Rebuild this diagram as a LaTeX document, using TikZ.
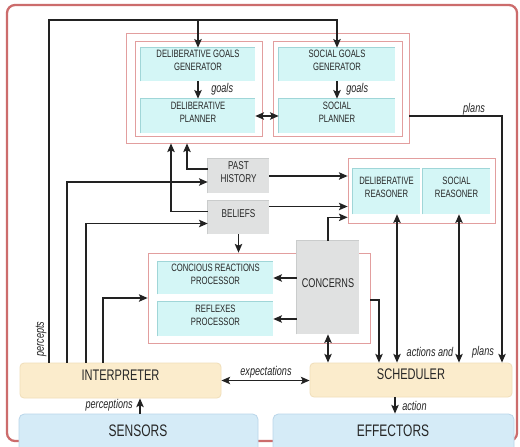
\documentclass[tikz,border=0pt]{standalone}
\usepackage{fontspec}
\setmainfont{Liberation Sans}[FakeStretch=0.72]
\usetikzlibrary{arrows.meta,fit,calc}

\definecolor{framered}{RGB}{204,108,108}
\definecolor{pinkline}{RGB}{226,158,158}
\definecolor{cyanfill}{RGB}{212,246,246}
\definecolor{cyanedge}{RGB}{160,214,216}
\definecolor{grayfill}{RGB}{224,225,225}
\definecolor{grayedge}{RGB}{202,204,204}
\definecolor{peachfill}{RGB}{251,236,204}
\definecolor{peachedge}{RGB}{240,222,186}
\definecolor{bluefill}{RGB}{213,235,247}
\definecolor{blueedge}{RGB}{186,214,234}
\definecolor{ink}{RGB}{34,34,34}
\definecolor{txt}{RGB}{38,38,38}

\tikzset{
  module/.style={draw=pinkline, line width=0.5pt},
  cbox/.style={fill=cyanfill, inner sep=0pt, align=center, text=txt,
    font=\fontsize{8}{9.8}\selectfont},
  gbox/.style={fill=grayfill, inner sep=0pt, align=center, text=txt,
    font=\fontsize{8.5}{9.8}\selectfont},
  pbox/.style={fill=peachfill, draw=peachedge, line width=0.6pt, rounded corners=3pt,
    inner sep=0pt, text=txt, font=\fontsize{11.5}{13}\selectfont},
  bbox/.style={fill=bluefill, draw=blueedge, line width=0.6pt, rounded corners=4pt,
    inner sep=0pt, text=txt, font=\fontsize{12.5}{14}\selectfont},
  cbevel/.style={draw=cyanedge, line width=1pt},
  gbevel/.style={draw=grayedge, line width=1pt},
  conn/.style={draw=ink, line width=1.25pt},
  arr/.style={conn, -{Stealth[length=6.5pt,width=5.5pt,inset=1.3pt]}},
  darr/.style={conn, {Stealth[length=6.5pt,width=5.5pt,inset=1.3pt]}-{Stealth[length=6.5pt,width=5.5pt,inset=1.3pt]}},
  lbl/.style={text=txt, inner sep=0pt, font=\fontsize{9.5}{11}\selectfont\itshape},
}

\begin{document}
\begin{tikzpicture}[x=0.75pt, y=-0.75pt]
\useasboundingbox (0,0) rectangle (520,446);
\fill[white] (0,0) rectangle (520,446);
\begin{scope}
\clip (0,0) rectangle (520,446);

% outer frame
\draw[framered, line width=1.7pt, rounded corners=6pt] (7,5) rectangle (517,441);

% deliberative layer
\node[module, fit={(126,33)(409,143)}, inner sep=0pt] (delout) {};
\node[module, fit={(135,41)(262,136)}, inner sep=0pt] (delin) {};
\node[module, fit={(273,41)(402,136)}, inner sep=0pt] (socin) {};
\node[cbox, fit={(141,48)(255,81)}] (dgg) {DELIBERATIVE GOALS\\GENERATOR};
\node[cbox, fit={(141,99)(255,133)}] (dp) {DELIBERATIVE\\PLANNER};
\node[cbox, fit={(279,48)(395,81)}] (sgg) {SOCIAL GOALS\\GENERATOR};
\node[cbox, fit={(279,99)(395,133)}] (sp) {SOCIAL\\PLANNER};

% memory
\node[gbox, fit={(208,159)(269,193)}] (ph) {PAST\\HISTORY};
\node[gbox, fit={(208,201)(269,234)}] (bel) {BELIEFS};

% reasoners
\node[module, fit={(348,158)(495,223)}, inner sep=0pt] (reason) {};
\node[cbox, fit={(353,169)(420,214)}] (dr) {DELIBERATIVE\\REASONER};
\node[cbox, fit={(423,169)(490,214)}] (sr) {SOCIAL\\REASONER};

% reactive layer
\node[module, fit={(148,253)(370,343)}, inner sep=0pt] (react) {};
\node[cbox, fit={(158,262)(273,294)}] (crp) {CONCIOUS REACTIONS\\PROCESSOR};
\node[cbox, fit={(158,302)(273,336)}] (rp) {REFLEXES\\PROCESSOR};
\node[gbox, fit={(297,241)(359,334)}, font=\fontsize{9.5}{11}\selectfont] (conc) {CONCERNS};

% bevelled top and left edges
\foreach \n in {dgg,dp,sgg,sp,dr,sr,crp,rp}
  \draw[cbevel] (\n.south west) -- (\n.north west) -- (\n.north east);
\foreach \n in {ph,bel,conc}
  \draw[gbevel] (\n.south west) -- (\n.north west) -- (\n.north east);

% interface
\node[pbox, fit={(20,363)(221,398)}] (interp) {INTERPRETER};
\node[pbox, fit={(310,363)(512,397)}] (sched) {SCHEDULER};
\node[bbox, fit={(19,414)(258,470)}] (sens) {};
\node[bbox, fit={(273,414)(514,470)}] (eff) {};
\node[text=txt, font=\fontsize{12.5}{14}\selectfont] at (138,431) (senslbl) {SENSORS};
\node[text=txt, font=\fontsize{12.5}{14}\selectfont] at (393,431) (efflbl) {EFFECTORS};
\end{scope}

% lanes
\coordinate (top) at (0,20);
\coordinate (l1) at (49,0);
\coordinate (l2) at (67,0);
\coordinate (l3) at (86,0);
\coordinate (l4) at (103,0);
\coordinate (u1) at (171,0);
\coordinate (u2) at (187,0);
\coordinate (lp) at (502,0);
\coordinate (lr) at (379,0);
\coordinate (la) at (397,0);
\coordinate (lb) at (459,0);
\coordinate (lsens) at (140,0);
\coordinate (lact) at (395,0);

% percepts to the goal generators
\draw[arr] (interp.north -| l1) -- (l1 |- top) -- (top -| sgg.north) -- (sgg.north);
\draw[arr] (top -| dgg.north) -- (dgg.north);
\node[lbl, rotate=90] at (41,339) (perceptslbl) {percepts};

% goals and plans
\draw[arr] (dgg.south) -- (dp.north);
\node[lbl, anchor=west] at (211,89) (g1) {goals};
\draw[arr] (sgg.south) -- (sp.north);
\node[lbl, anchor=west] at (346,89) (g2) {goals};
\draw[darr] (dp.east) -- (sp.west);
\draw[arr] (sp.east -| delout.east) -| (lp |- sched.north);
\node[lbl] at (474,109) (plansl1) {plans};

% memory to deliberative layer
\draw[arr] ($(ph.west)+(0,-7)$) -| (u2 |- delout.south);
\draw[arr] ($(bel.west)+(0,-6)$) -| (u1 |- delout.south);

% interpreter outputs
\draw[arr] (interp.north -| l2) |- ($(ph.west)+(0,6)$);
\draw[arr] (interp.north -| l3) |- ($(bel.west)+(0,6)$);
\draw[arr] (interp.north -| l4) |- (react.west);

% memory to reasoners
\draw[arr] (ph.east) -- (ph.east -| reason.west);
\coordinate (b1) at ($(bel.east)+(0,-11)$);
\draw[arr] (b1) -- (b1 -| reason.west);
\draw[arr] (conc.north) |- ($(reason.south west)+(0,-6)$);

% reactive layer
\draw[arr] (bel.south) -- (bel.south |- react.north);
\draw[arr] (conc.west |- crp.east) -- (crp.east);
\draw[arr] (conc.west |- rp.east) -- (rp.east);
\draw[arr] ($(react.east)+(0,2)$) -| (lr |- sched.north);
\draw[darr] (conc.south) -- (conc.south |- sched.north);

% reasoners and scheduler
\draw[darr] (la |- dr.south) -- (la |- sched.north);
\draw[darr] (lb |- sr.south) -- (lb |- sched.north);
\node[lbl] at (430,352) (actl) {actions and};
\node[lbl] at (483,352) (plansl2) {plans};

% interpreter, scheduler, sensors, effectors
\draw[darr] (interp.east) -- (interp.east -| sched.west);
\node[lbl] at (266,372) (expl) {expectations};
\draw[arr] (lsens |- sens.north) -- (lsens |- interp.south);
\node[lbl, anchor=east] at (133,405) (percl) {perceptions};
\draw[arr] (lact |- sched.south) -- (lact |- eff.north);
\node[lbl, anchor=west] at (402,406) (actionl) {action};
\end{tikzpicture}
\end{document}
